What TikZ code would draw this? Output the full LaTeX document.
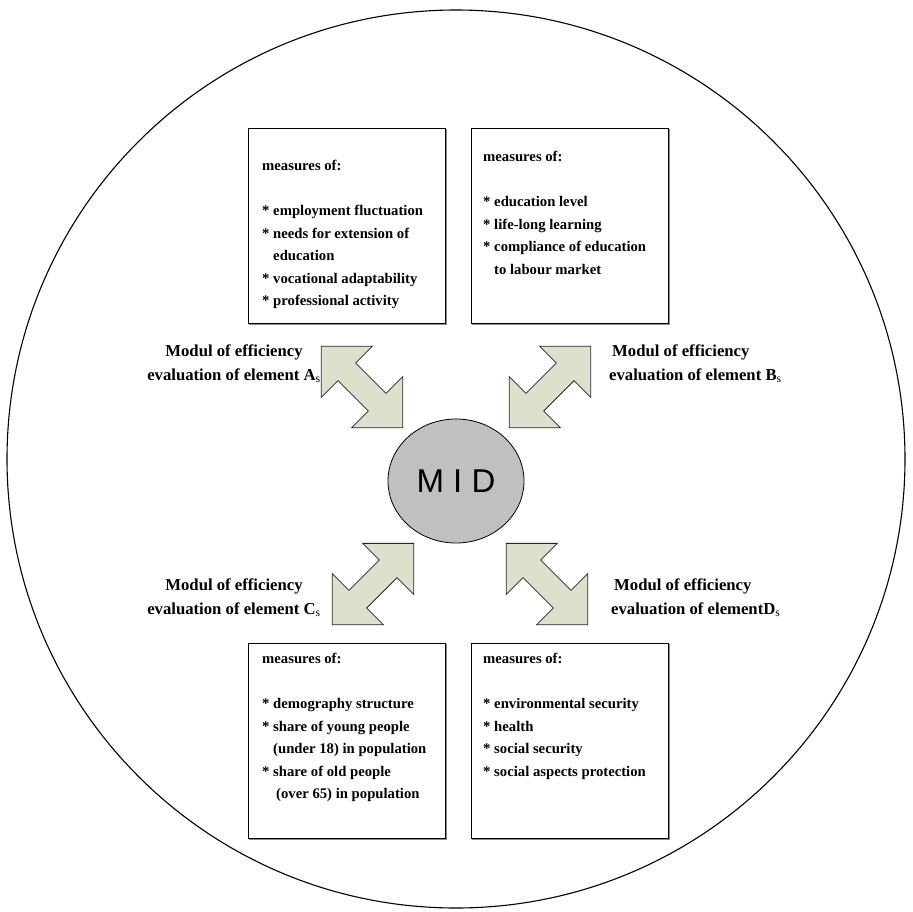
\documentclass[tikz,border=0pt]{standalone}
\usepackage{fontspec}
\setmainfont{Liberation Serif}
\setsansfont{Liberation Sans}
\usetikzlibrary{shapes.geometric}
\definecolor{arrowfill}{RGB}{221,224,204}
\definecolor{midfill}{RGB}{192,192,192}
\tikzset{
  measbox/.style={draw=black, line width=1.1pt, fill=white, anchor=north west, inner sep=0pt,
    minimum width=197pt, minimum height=195pt},
  boxshadow/.style={draw=black!45, line width=1.4pt},
  boxtext/.style={anchor=north west, inner sep=0pt, align=left,
    font=\bfseries\fontsize{14.7}{22.5}\selectfont},
  modlabel/.style={inner sep=0pt, font=\bfseries\fontsize{16.7}{23.5}\selectfont},
  blockarrow/.style={draw=black!85, line width=0.8pt, fill=arrowfill, line join=miter},
  dblarrow/.pic={\path[blockarrow] (57.5,0) -- (21.5,36) -- (21.5,12.5) -- (-21.5,12.5)
      -- (-21.5,36) -- (-57.5,0) -- (-21.5,-36) -- (-21.5,-12.5) -- (21.5,-12.5)
      -- (21.5,-36) -- cycle;}
}
\newcommand{\subs}{\textsubscript{\mdseries s}}
\newcommand{\hang}{\hphantom{*}\ }

\begin{document}
\begin{tikzpicture}[x=1pt,y=-1pt]
\useasboundingbox (0,0) rectangle (913,911);

% outer frame
\draw[line width=1.1pt] (456,459) circle[radius=449];

% the four measure boxes (with a light shadow on the lower right)
\draw[boxshadow] (249,324) -- (446,324) -- (446,129);
\draw[boxshadow] (472,324) -- (669,324) -- (669,129);
\draw[boxshadow] (249,839) -- (446,839) -- (446,644);
\draw[boxshadow] (472,839) -- (669,839) -- (669,644);
\node[measbox] (boxA) at (248,128) {};
\node[measbox] (boxB) at (471,128) {};
\node[measbox] (boxC) at (248,643) {};
\node[measbox] (boxD) at (471,643) {};

\node[boxtext] (textA) at (262,160) {measures of:\\[22.5pt]
  * employment fluctuation\\
  * needs for extension of\\
  \hang education\\
  * vocational adaptability\\
  * professional activity};
\node[boxtext] (textB) at (483,151) {measures of:\\[22.5pt]
  * education level\\
  * life-long learning\\
  * compliance of education\\
  \hang to labour market};
\node[boxtext] (textC) at (262,653) {measures of:\\[22.5pt]
  * demography structure\\
  * share of young people\\
  \hang (under 18) in population\\
  * share of old people\\
  \hang\hspace{3pt}(over 65) in population};
\node[boxtext] (textD) at (483,653) {measures of:\\[22.5pt]
  * environmental security\\
  * health\\
  * social security\\
  * social aspects protection};

% central element
\node[ellipse, draw=black, line width=0.8pt, fill=midfill, minimum width=136pt,
  minimum height=124pt, inner sep=0pt] (mid) at (456,481)
  {\sffamily\fontsize{33}{33}\selectfont M I D};

% double block arrows between the centre and the boxes
\pic[rotate=-45] (arrA) at (362,387) {dblarrow};
\pic[rotate=45]  (arrB) at (550,387) {dblarrow};
\pic[rotate=45]  (arrC) at (373,584) {dblarrow};
\pic[rotate=-45] (arrD) at (547,584) {dblarrow};

% module labels
\node[modlabel, align=center] (labA) at (234,364)
  {Modul of efficiency\\evaluation of element A\subs};
\node[modlabel, align=left, anchor=west] (labB) at (609,364)
  {\hspace{3pt}Modul of efficiency\\evaluation of element B\subs};
\node[modlabel, align=center] (labC) at (234,598)
  {Modul of efficiency\\evaluation of element C\subs};
\node[modlabel, align=left, anchor=west] (labD) at (611,598)
  {\hspace{3pt}Modul of efficiency\\evaluation of elementD\subs};
\end{tikzpicture}
\end{document}
